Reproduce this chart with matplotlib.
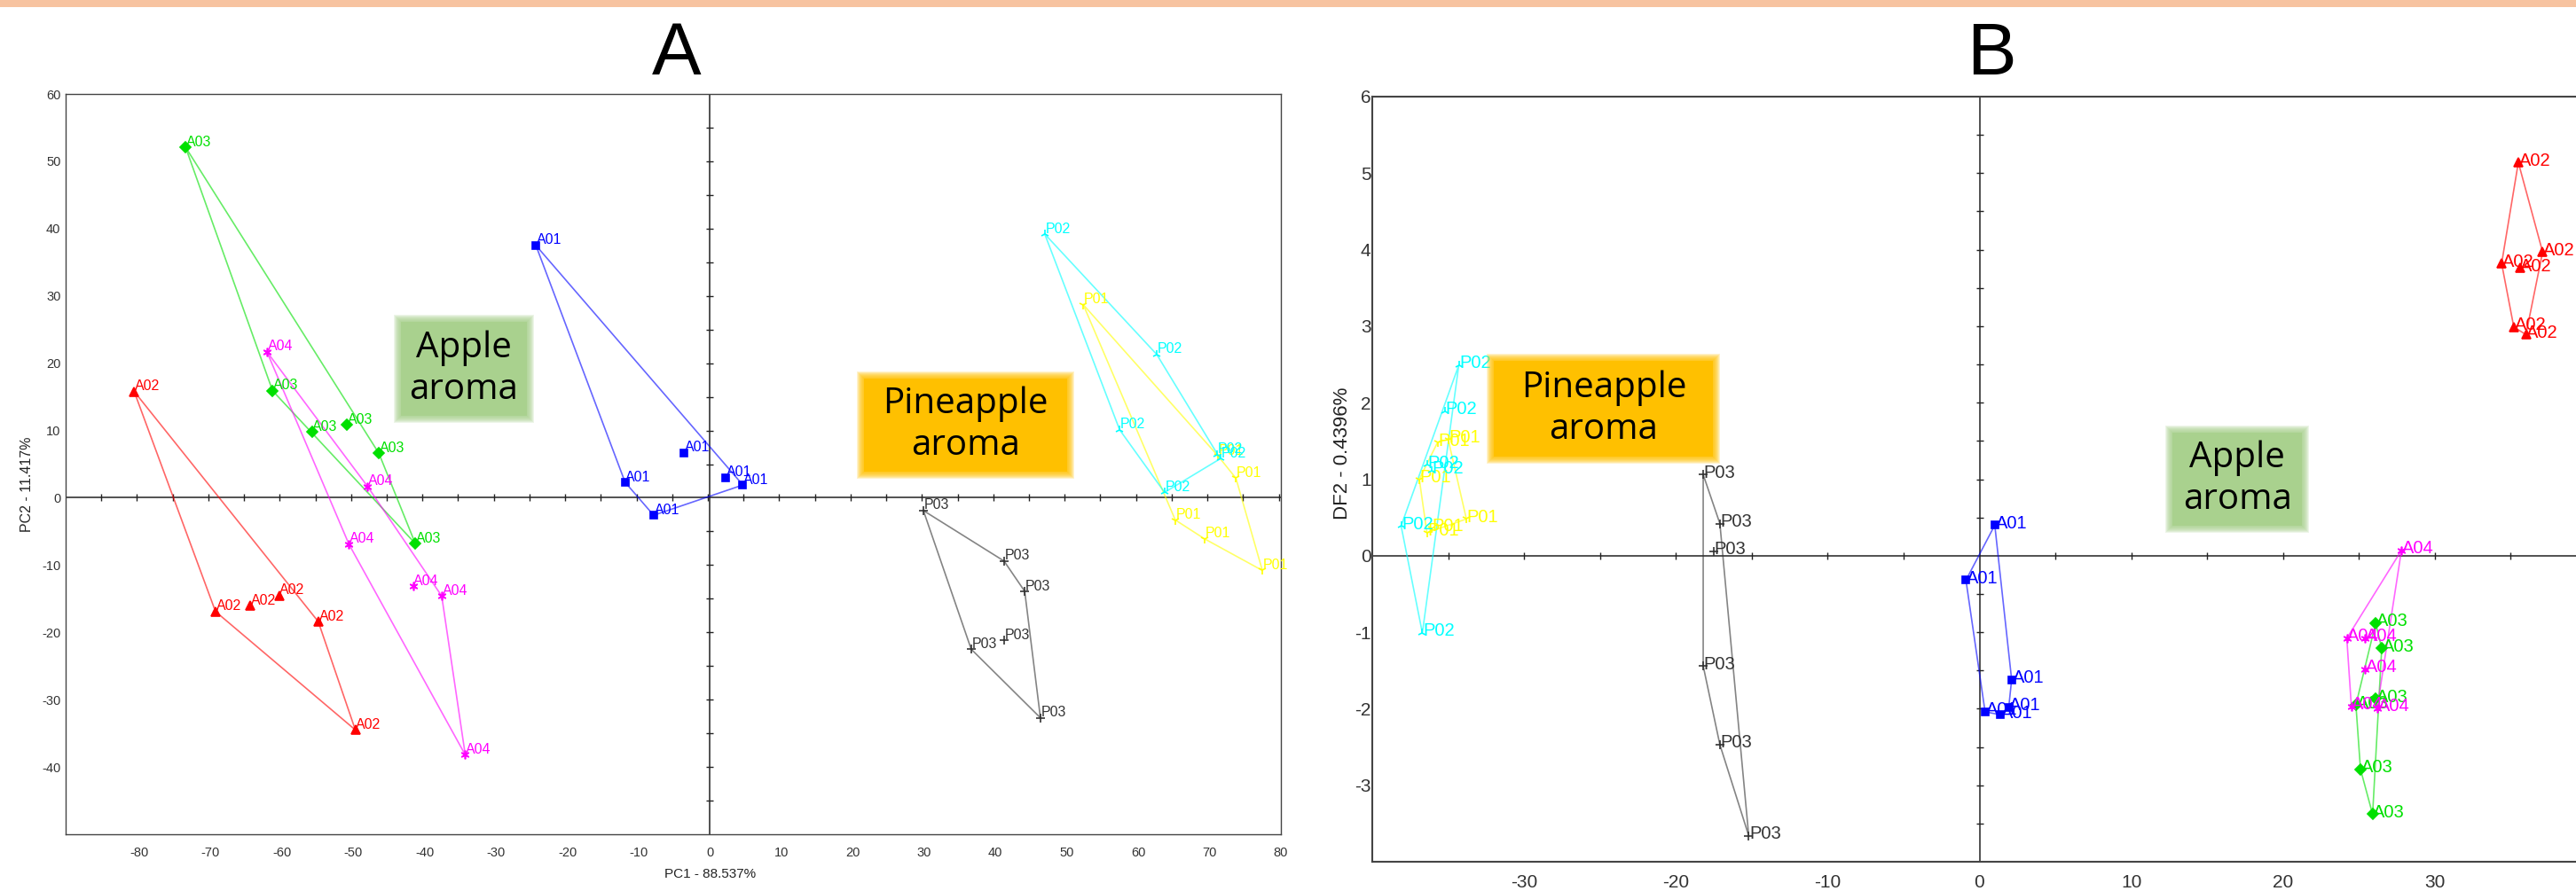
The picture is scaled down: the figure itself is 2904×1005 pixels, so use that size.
import numpy as np
import matplotlib.pyplot as plt
from matplotlib.patches import Rectangle

plt.rcParams['font.family'] = ['Liberation Sans', 'DejaVu Sans']

# ---- panel A: PCA scores (PC1, PC2), six replicates per sample ----
pca_A01 = [[-24.4, 37.5], [-3.6, 6.7], [-11.9, 2.3], [2.2, 3.0], [4.6, 1.9], [-7.9, -2.6]]
pca_A02 = [[-80.7, 15.8], [-69.3, -16.9], [-64.4, -16.0], [-60.4, -14.5], [-54.9, -18.4], [-49.7, -34.5]]
pca_A03 = [[-73.5, 52.1], [-61.3, 15.9], [-55.8, 9.8], [-50.9, 10.8], [-46.4, 6.6], [-41.3, -6.8]]
pca_A04 = [[-62.1, 21.7], [-48.0, 1.7], [-50.6, -6.9], [-41.6, -13.1], [-37.6, -14.6], [-34.3, -38.2]]
pca_P01 = [[52.3, 28.7], [71.2, 6.2], [73.7, 2.9], [65.2, -3.3], [69.3, -6.1], [77.4, -10.8]]
pca_P02 = [[46.9, 39.2], [62.6, 21.3], [57.4, 10.1], [71.0, 6.4], [71.5, 5.8], [63.7, 0.8]]
pca_P03 = [[29.9, -1.9], [41.2, -9.4], [44.1, -13.9], [41.2, -21.2], [36.6, -22.5], [46.3, -32.7]]

# ---- panel B: discriminant scores (DF1, DF2) ----
df_A01 = [[1.01, 0.40], [-0.89, -0.32], [2.12, -1.62], [0.37, -2.04], [1.40, -2.08], [1.93, -1.98]]
df_A02 = [[35.5, 5.14], [37.1, 3.97], [34.4, 3.82], [35.6, 3.76], [35.2, 2.99], [36.0, 2.89]]
df_A03 = [[26.1, -0.88], [26.5, -1.21], [26.1, -1.87], [24.8, -1.95], [25.1, -2.79], [25.9, -3.38]]
df_A04 = [[27.8, 0.07], [24.2, -1.08], [25.4, -1.08], [25.4, -1.48], [24.5, -1.97], [26.2, -1.99]]
df_P01 = [[-35.0, 1.52], [-35.7, 1.48], [-36.9, 1.00], [-33.8, 0.48], [-36.1, 0.36], [-36.4, 0.30]]
df_P02 = [[-34.3, 2.49], [-35.2, 1.89], [-36.4, 1.19], [-36.1, 1.11], [-38.1, 0.39], [-36.7, -1.01]]
df_P03 = [[-18.2, 1.06], [-17.1, 0.42], [-17.5, 0.06], [-18.2, -1.44], [-17.1, -2.47], [-15.2, -3.66]]

names = ['A01', 'A02', 'A03', 'A04', 'P01', 'P02', 'P03']
pca_sets = [pca_A01, pca_A02, pca_A03, pca_A04, pca_P01, pca_P02, pca_P03]
df_sets = [df_A01, df_A02, df_A03, df_A04, df_P01, df_P02, df_P03]

colors = ['#0000ff', '#ff0000', '#00e000', '#ff00ff', '#ffff00', '#00ffff', '#333333']
markers = ['s', '^', 'D', (6, 2, 0), '1', '2', '+']
msizes = [6, 7.5, 6, 7, 7, 7, 7]

W, H = 2904, 1005


def hull(pts):
    # convex hull (monotone chain), closed
    pts = sorted(map(tuple, pts))

    def cross(o, a, b):
        return (a[0] - o[0]) * (b[1] - o[1]) - (a[1] - o[1]) * (b[0] - o[0])
    lower, upper = [], []
    for p in pts:
        while len(lower) >= 2 and cross(lower[-2], lower[-1], p) <= 0:
            lower.pop()
        lower.append(p)
    for p in reversed(pts):
        while len(upper) >= 2 and cross(upper[-2], upper[-1], p) <= 0:
            upper.pop()
        upper.append(p)
    h = lower[:-1] + upper[:-1]
    return np.array(h + [h[0]])


def glow_box(ax, x0, x1, y0, y1, color, text):
    # soft-edged label box, sizes given in data units of the axes
    pos = ax.get_position()
    fx = (ax.get_xlim()[1] - ax.get_xlim()[0]) / (pos.width * W)
    fy = (ax.get_ylim()[1] - ax.get_ylim()[0]) / (pos.height * H)
    ax.add_patch(Rectangle((x0 + 4 * fx, y0 + 4 * fy), x1 - x0 - 8 * fx, y1 - y0 - 8 * fy,
                           fc=color, ec='none', zorder=5))
    for k in range(4, -5, -1):
        ax.add_patch(Rectangle((x0 - k * fx, y0 - k * fy), x1 - x0 + 2 * k * fx, y1 - y0 + 2 * k * fy,
                               fc=color, ec='none', alpha=0.2, zorder=5))
    ax.text((x0 + x1) / 2, (y0 + y1) / 2, text, ha='center', va='center', fontsize=29,
            family='Open Sans', linespacing=1.2, zorder=6)


def draw_panel(ax, sets, xlim, ylim, xtick_step, ytick_step, xlabels, ylabels, fs_lab, fs_tick, lab_dy):
    ax.set_xlim(xlim)
    ax.set_ylim(ylim)
    # crossing zero axes with small ticks
    ax.axhline(0, color='#222222', lw=1.1, zorder=2)
    ax.axvline(0, color='#222222', lw=1.1, zorder=2)
    xt = np.arange(xlim[0] + xtick_step, xlim[1] + 1e-9, xtick_step)
    yt = np.arange(ylim[0] + ytick_step, ylim[1] - 1e-9, ytick_step)
    xt = xt[np.abs(xt) > 1e-9]
    yt = yt[np.abs(yt) > 1e-9]
    ax.plot(xt, np.zeros_like(xt), ls='none', marker='|', ms=6, mew=1, color='#222222', zorder=2)
    ax.plot(np.zeros_like(yt), yt, ls='none', marker='_', ms=6, mew=1, color='#222222', zorder=2)

    for name, pts, c, m, s in zip(names, sets, colors, markers, msizes):
        pts = np.array(pts)
        h = hull(pts)
        ax.plot(h[:, 0], h[:, 1], color=c, lw=1.2, alpha=0.6, zorder=3)
        ax.plot(pts[:, 0], pts[:, 1], ls='none', marker=m, ms=s, color=c, mew=1.2, zorder=4)
        for x, y in pts:
            ax.annotate(name, (x, y), xytext=(0.5, lab_dy), textcoords='offset points',
                        ha='left', va='baseline', color=c, fontsize=fs_lab, zorder=4)

    ax.set_xticks(xlabels)
    ax.set_yticks(ylabels)
    ax.set_xticklabels([f'{v:g}' for v in xlabels])
    ax.set_yticklabels([f'{v:g}' for v in ylabels])
    ax.tick_params(length=0, labelsize=fs_tick, labelcolor='#333333')
    for sp in ax.spines.values():
        sp.set_color('#444444')


fig = plt.figure(figsize=(W / 100, H / 100), dpi=100)
fig.add_artist(Rectangle((0, 1 - 8 / H), 1, 8 / H, transform=fig.transFigure, fc='#f7c3a0', ec='none'))

# panel A
axA = fig.add_axes([74 / W, 1 - 941 / H, 1370 / W, 835 / H])
draw_panel(axA, pca_sets, (-90.3, 80), (-50, 60), 5, 5,
           list(range(-80, 81, 10)), list(range(-40, 61, 10)), 11.5, 10.5, 1)
axA.tick_params(axis='x', pad=10)
axA.tick_params(axis='y', pad=4)
for sp in axA.spines.values():
    sp.set_linewidth(1.0)
axA.set_xlabel('PC1 - 88.537%', fontsize=11, color='#222222')
axA.set_ylabel('PC2 - 11.417%', fontsize=11.5, color='#222222')
axA.xaxis.set_label_coords(0.53, -0.045)
axA.yaxis.set_label_coords(-0.026, 0.473)
glow_box(axA, -43.8, -25.2, 11.6, 26.7, '#a9d18e', 'Apple\naroma')
glow_box(axA, 21.1, 50.6, 3.4, 18.3, '#ffc000', 'Pineapple\naroma')
fig.text(763 / W, 1 - 62 / H, 'A', ha='center', va='center', fontsize=60)

# panel B
axB = fig.add_axes([1547 / W, 1 - 972 / H, 1369 / W, 863 / H])
draw_panel(axB, df_sets, (-40, 40), (-4, 6), 5, 0.5,
           list(range(-30, 31, 10)), list(range(-3, 7)), 14.5, 15, -2.5)
axB.tick_params(axis='x', pad=10)
axB.tick_params(axis='y', pad=1)
for sp in axB.spines.values():
    sp.set_linewidth(1.5)
axB.set_ylabel('DF2 - 0.4396%', fontsize=16, color='#222222')
axB.yaxis.set_label_coords(-0.017, 0.534)
glow_box(axB, -32.2, -17.3, 1.25, 2.59, '#ffc000', 'Pineapple\naroma')
glow_box(axB, 12.5, 21.5, 0.35, 1.65, '#a9d18e', 'Apple\naroma')
fig.text(2245 / W, 1 - 62 / H, 'B', ha='center', va='center', fontsize=60)

fig.savefig('out.png', dpi=100)
